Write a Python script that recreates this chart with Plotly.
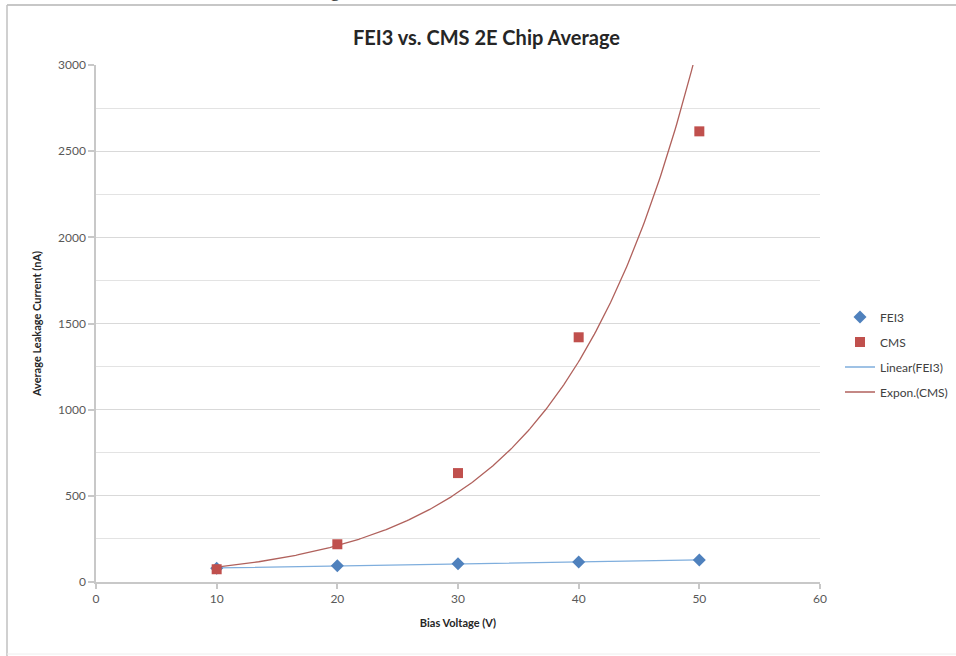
import numpy as np
import plotly.graph_objects as go

# ---- data ----
bias_voltage = [10, 20, 30, 40, 50]
fei3_current = [80, 95, 106, 116, 128]
cms_current = [74, 219, 632, 1420, 2615]

x_ticks = [0, 10, 20, 30, 40, 50, 60]
y_ticks = [0, 500, 1000, 1500, 2000, 2500, 3000]

# ---- trendlines (least-squares fits like Excel) ----
xv = np.array(bias_voltage, dtype=float)
lin_coef = np.polyfit(xv, np.array(fei3_current, dtype=float), 1)
exp_coef = np.polyfit(xv, np.log(np.array(cms_current, dtype=float)), 1)
xfit = np.linspace(min(bias_voltage), max(bias_voltage), 300)
lin_fit = np.polyval(lin_coef, xfit)
exp_fit = np.exp(np.polyval(exp_coef, xfit))

FONT = "Lato"
fig = go.Figure()

fig.add_trace(go.Scatter(
    x=xfit, y=lin_fit, mode="lines", name="Linear(FEI3)",
    line=dict(color="#7FAEDD", width=1.3), legendgroup="c", legendrank=3,
    hoverinfo="skip"))
fig.add_trace(go.Scatter(
    x=xfit, y=exp_fit, mode="lines", name="Expon.(CMS)",
    line=dict(color="#B0615C", width=1.3), legendgroup="d", legendrank=4,
    hoverinfo="skip"))
fig.add_trace(go.Scatter(
    x=bias_voltage, y=fei3_current, mode="markers", name="FEI3",
    marker=dict(symbol="diamond", size=10, color="#4F81BD"),
    legendgroup="a", legendrank=1))
fig.add_trace(go.Scatter(
    x=bias_voltage, y=cms_current, mode="markers", name="CMS",
    marker=dict(symbol="square", size=10, color="#C0504D"),
    legendgroup="b", legendrank=2))

# plot-area pixel geometry
L, R, T, B = 96, 820, 65, 582
W, H = R - L, B - T
def px(xp):
    return (xp - L) / W
def py(yp):
    return (B - yp) / H

fig.update_layout(
    width=956, height=656,
    margin=dict(l=L, r=956 - R, t=T, b=656 - B, autoexpand=False),
    paper_bgcolor="white", plot_bgcolor="white",
    font=dict(family=FONT, color="#595959", size=12),
    showlegend=True,
    legend=dict(xref="container", yref="container",
                x=840 / 956, y=1 - 354.5 / 656, xanchor="left", yanchor="middle",
                font=dict(family=FONT, size=12, color="#404040"),
                tracegroupgap=6, traceorder="grouped",
                bgcolor="rgba(0,0,0,0)"),
    xaxis=dict(range=[0, 60], tickvals=x_ticks, ticktext=[str(v) for v in x_ticks],
               showgrid=False, zeroline=False, showline=True,
               linecolor="#C8C8C8", linewidth=1.5,
               ticks="outside", ticklen=5, tickcolor="#C8C8C8", tickwidth=1.5,
               tickfont=dict(family=FONT, size=12, color="#595959"),
               title=dict(text="<b>Bias Voltage (V)</b>", standoff=14,
                          font=dict(family=FONT, size=11, color="#262626"))),
    yaxis=dict(range=[0, 3000], tickvals=y_ticks, ticktext=[str(v) for v in y_ticks],
               showgrid=True, gridcolor="#D9D9D9", gridwidth=1,
               zeroline=False, showline=True,
               linecolor="#C8C8C8", linewidth=1.5,
               ticks="outside", ticklen=6, tickcolor="#C8C8C8", tickwidth=1.5,
               minor=dict(dtick=250, showgrid=True, gridcolor="#E3E3E3", gridwidth=1, ticks=""),
               tickfont=dict(family=FONT, size=12, color="#595959"),
               title=dict(text="<b>Average Leakage Current (nA)</b>", standoff=14,
                          font=dict(family=FONT, size=11, color="#262626"))),
    annotations=[
        dict(text="<b>FEI3 vs. CMS 2E Chip Average</b>", xref="paper", yref="paper",
             x=px(486), y=py(37), xanchor="center", yanchor="middle", showarrow=False,
             font=dict(family=FONT, size=20, color="#262626")),
        dict(text="g", xref="paper", yref="paper", x=px(335), y=py(3),
             xanchor="center", yanchor="bottom", showarrow=False,
             font=dict(family="Liberation Serif", size=20, color="#333333")),
    ],
    shapes=[
        dict(type="line", xref="paper", yref="paper", x0=px(7), x1=px(956),
             y0=py(5), y1=py(5), line=dict(color="#B5B5B5", width=1.5)),
        dict(type="line", xref="paper", yref="paper", x0=px(7), x1=px(7),
             y0=py(5), y1=py(656), line=dict(color="#C0C0C0", width=1.5)),
        dict(type="line", xref="paper", yref="paper", x0=px(7), x1=px(956),
             y0=py(654), y1=py(654), line=dict(color="#EEEEEE", width=1)),
    ],
)

fig.write_html("out.html", config={"displayModeBar": False})
